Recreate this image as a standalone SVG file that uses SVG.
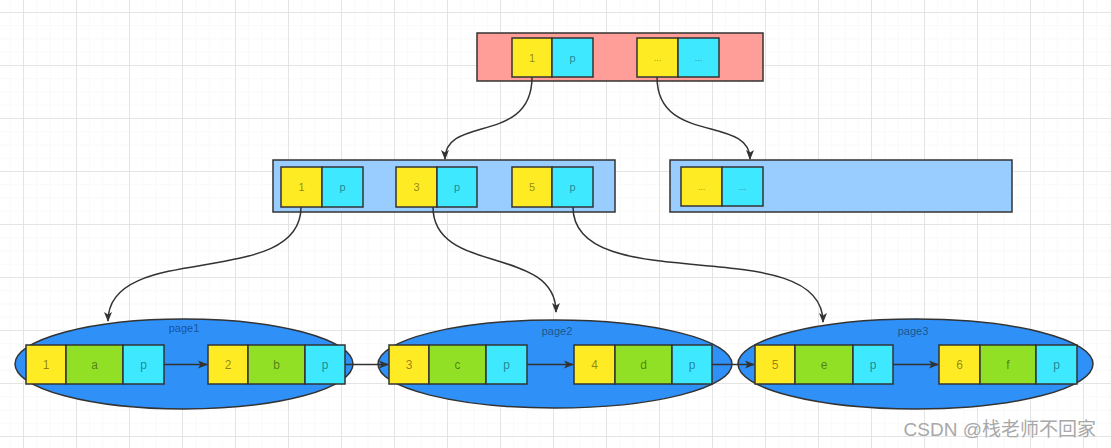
<svg xmlns="http://www.w3.org/2000/svg" width="1111" height="448" viewBox="0 0 1111 448">
<defs>
<pattern id="minor" x="23" y="12" width="13.25" height="13.25" patternUnits="userSpaceOnUse">
<path d="M0,0 H13.25 M0,0 V13.25" stroke="#f3f3f3" stroke-width="1" fill="none"/>
</pattern>
<pattern id="major" x="23" y="12" width="53" height="53" patternUnits="userSpaceOnUse">
<path d="M0,0.5 H53 M0.5,0 V53" stroke="#e4e4e4" stroke-width="1" fill="none"/>
</pattern>
<marker id="arr" viewBox="0 0 10 10" refX="9" refY="5" markerWidth="10" markerHeight="10" markerUnits="userSpaceOnUse" orient="auto">
<path d="M0,1 L10,5 L0,9 L2.5,5 Z" fill="#333"/>
</marker>
</defs>
<style>
.y{fill:#ffeb24;stroke:#333;stroke-width:1.5}
.c{fill:#3ee9ff;stroke:#333;stroke-width:1.5}
.g{fill:#92e026;stroke:#333;stroke-width:1.5}
.ell{fill:#2f90f8;stroke:#333;stroke-width:1.5}
.t{font-family:"Liberation Sans",Arial,sans-serif;font-size:12px;fill:#000;fill-opacity:0.45;text-anchor:middle;dominant-baseline:central}
.s{font-size:11px}
.d{font-size:9px}
.lbl{font-family:"Liberation Sans",Arial,sans-serif;font-size:11px;fill:#000;fill-opacity:0.45;text-anchor:middle}
.conn path{fill:none;stroke:#333;stroke-width:1.5}
</style>
<rect width="1111" height="448" fill="#ffffff"/>
<rect width="1111" height="448" fill="url(#minor)"/>
<rect width="1111" height="448" fill="url(#major)"/>

<g id="root">
<rect x="477" y="33" width="286" height="48" fill="#ff9e99" stroke="#333" stroke-width="1.5"/>
<rect class="y" x="512" y="38" width="40" height="39"/><text class="t s" x="532" y="57.5">1</text>
<rect class="c" x="552" y="38" width="41" height="39"/><text class="t s" x="572.5" y="57.5">p</text>
<rect class="y" x="637" y="38" width="41" height="39"/><text class="t d" x="657.5" y="57.5">...</text>
<rect class="c" x="678" y="38" width="41" height="39"/><text class="t d" x="698.5" y="57.5">...</text>
</g>

<g id="inner-left">
<rect x="273" y="160" width="342" height="52" fill="#99ccff" stroke="#333" stroke-width="1.5"/>
<rect class="y" x="281" y="167" width="41" height="40"/><text class="t s" x="301.5" y="187">1</text>
<rect class="c" x="322" y="167" width="41" height="40"/><text class="t s" x="342.5" y="187">p</text>
<rect class="y" x="396" y="167" width="41" height="40"/><text class="t s" x="416.5" y="187">3</text>
<rect class="c" x="437" y="167" width="40" height="40"/><text class="t s" x="457" y="187">p</text>
<rect class="y" x="512" y="167" width="40" height="40"/><text class="t s" x="532" y="187">5</text>
<rect class="c" x="552" y="167" width="41" height="40"/><text class="t s" x="572.5" y="187">p</text>
</g>

<g id="inner-right">
<rect x="670" y="160" width="342" height="52" fill="#99ccff" stroke="#333" stroke-width="1.5"/>
<rect class="y" x="681" y="167" width="41" height="39"/><text class="t d" x="701.5" y="186.5">...</text>
<rect class="c" x="722" y="167" width="41" height="39"/><text class="t d" x="742.5" y="186.5">...</text>
</g>

<g id="page1">
<ellipse class="ell" cx="184" cy="364" rx="169" ry="45"/>
<text class="lbl" x="184" y="332">page1</text>
<rect class="y" x="26" y="345" width="40" height="39"/><text class="t" x="46" y="364.5">1</text>
<rect class="g" x="66" y="345" width="57" height="39"/><text class="t" x="94.5" y="364.5">a</text>
<rect class="c" x="123" y="345" width="41" height="39"/><text class="t" x="143.5" y="364.5">p</text>
<rect class="y" x="208" y="345" width="40" height="39"/><text class="t" x="228" y="364.5">2</text>
<rect class="g" x="248" y="345" width="57" height="39"/><text class="t" x="276.5" y="364.5">b</text>
<rect class="c" x="305" y="345" width="40" height="39"/><text class="t" x="325" y="364.5">p</text>
</g>

<g id="page2">
<ellipse class="ell" cx="555" cy="364" rx="177" ry="44"/>
<text class="lbl" x="557" y="335">page2</text>
<rect class="y" x="389" y="345" width="40" height="39"/><text class="t" x="409" y="364.5">3</text>
<rect class="g" x="429" y="345" width="57" height="39"/><text class="t" x="457.5" y="364.5">c</text>
<rect class="c" x="486" y="345" width="41" height="39"/><text class="t" x="506.5" y="364.5">p</text>
<rect class="y" x="574" y="345" width="41" height="39"/><text class="t" x="594.5" y="364.5">4</text>
<rect class="g" x="615" y="345" width="57" height="39"/><text class="t" x="643.5" y="364.5">d</text>
<rect class="c" x="672" y="345" width="40" height="39"/><text class="t" x="692" y="364.5">p</text>
</g>

<g id="page3">
<ellipse class="ell" cx="915.5" cy="364" rx="177.5" ry="45"/>
<text class="lbl" x="913" y="335">page3</text>
<rect class="y" x="755" y="345" width="40" height="39"/><text class="t" x="775" y="364.5">5</text>
<rect class="g" x="795" y="345" width="58" height="39"/><text class="t" x="824" y="364.5">e</text>
<rect class="c" x="853" y="345" width="40" height="39"/><text class="t" x="873" y="364.5">p</text>
<rect class="y" x="939" y="345" width="41" height="39"/><text class="t" x="959.5" y="364.5">6</text>
<rect class="g" x="980" y="345" width="56" height="39"/><text class="t" x="1008" y="364.5">f</text>
<rect class="c" x="1036" y="345" width="41" height="39"/><text class="t" x="1056.5" y="364.5">p</text>
</g>

<g id="connectors" class="conn">
<path d="M532,77 C532,145 445,115 445,159" marker-end="url(#arr)"/>
<path d="M657,77 C657,145 750,115 750,159" marker-end="url(#arr)"/>
<path d="M301,207 C301,290 108,240 108,321" marker-end="url(#arr)"/>
<path d="M433,207 C433,275 556,245 556,312" marker-end="url(#arr)"/>
<path d="M573,207 C573,300 823,230 823,322" marker-end="url(#arr)"/>
<path d="M164,364.5 H207" marker-end="url(#arr)"/>
<path d="M345,364.5 H388" marker-end="url(#arr)"/>
<path d="M527,364.5 H573" marker-end="url(#arr)"/>
<path d="M712,364.5 H754" marker-end="url(#arr)"/>
<path d="M893,364.5 H938" marker-end="url(#arr)"/>
</g>

<text x="1096" y="436" font-family="'Liberation Sans','Noto Sans CJK SC',sans-serif" font-size="19" fill="#a8a8a8" text-anchor="end">CSDN @栈老师不回家</text>
</svg>
